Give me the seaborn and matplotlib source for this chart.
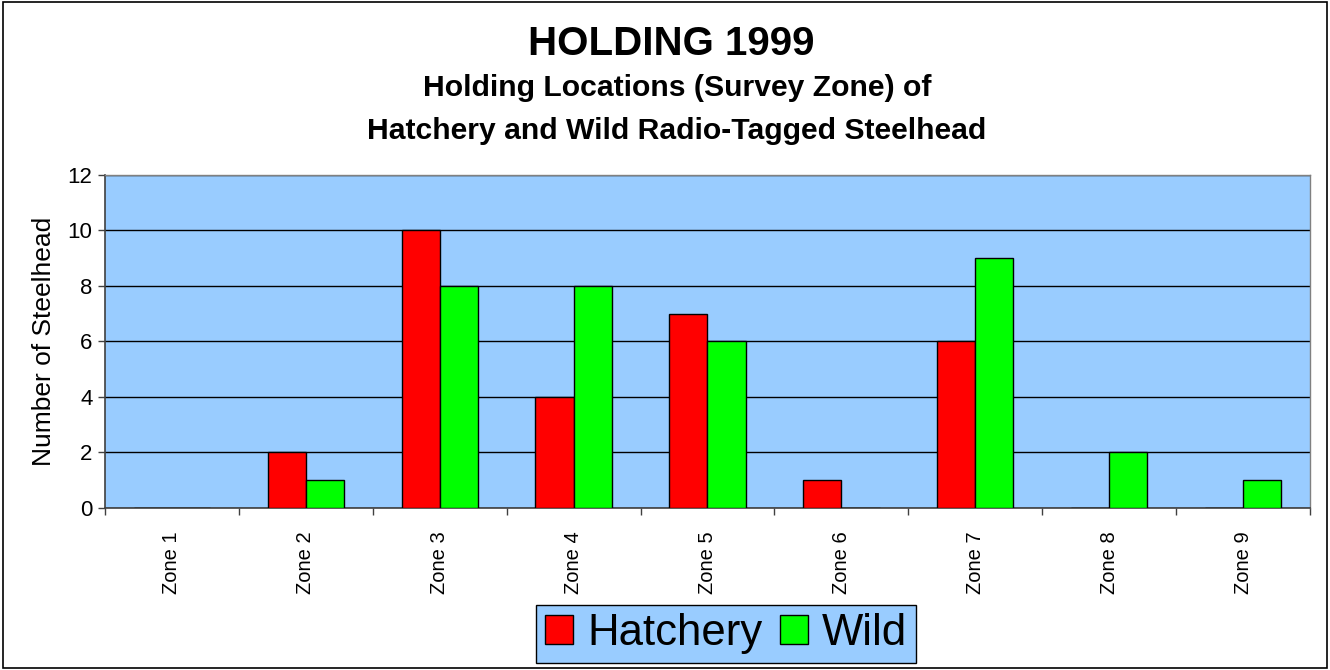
import numpy as np
import pandas as pd
import seaborn as sns
import matplotlib.pyplot as plt
from matplotlib.patches import Rectangle

# Holding survey zones and counts of radio-tagged steelhead
zones = ['Zone 1', 'Zone 2', 'Zone 3', 'Zone 4', 'Zone 5', 'Zone 6', 'Zone 7', 'Zone 8', 'Zone 9']
hatchery = [0, 2, 10, 4, 7, 1, 6, 0, 0]
wild = [0, 1, 8, 8, 6, 0, 9, 2, 1]

df = pd.DataFrame({'zone': zones * 2,
                   'count': hatchery + wild,
                   'origin': ['Hatchery'] * len(zones) + ['Wild'] * len(zones)})

sns.set_theme(style='white')
plt.rcParams['font.family'] = ['Liberation Sans', 'DejaVu Sans']
plt.rcParams['text.color'] = 'black'
plt.rcParams['axes.labelcolor'] = 'black'
plt.rcParams['xtick.color'] = 'black'
plt.rcParams['ytick.color'] = 'black'

fig = plt.figure(figsize=(13.3, 6.7), dpi=100)
ax = fig.add_axes([0.0789, 0.2418, 0.9061, 0.4972])
ax.set_facecolor('#99CCFF')

sns.barplot(data=df, x='zone', y='count', hue='origin', ax=ax,
            palette={'Hatchery': '#FF0000', 'Wild': '#00FF00'},
            width=0.57, edgecolor='black', linewidth=1, saturation=1, zorder=3)

ax.set_xlim(-0.5, len(zones) - 0.5)
ax.set_ylim(0, 12)
ax.set_yticks(np.arange(0, 13, 2))
ax.yaxis.grid(True, color='black', linewidth=1, zorder=1)
ax.set_axisbelow(True)
ax.tick_params(axis='y', labelsize=16, length=5, width=1, color='#404040',
               labelcolor='black', direction='out', left=True, pad=4)

# labels at the centres, tick marks at the category borders
ax.set_xticks(np.arange(len(zones)))
ax.set_xticklabels(zones, rotation=90)
ax.set_xticks(np.arange(-0.5, len(zones), 1), minor=True)
ax.tick_params(axis='x', which='major', length=0, pad=17, labelsize=14.5, labelcolor='black')
ax.tick_params(axis='x', which='minor', length=5, width=1, color='#404040', direction='out', bottom=True)

for side in ['left', 'bottom']:
    ax.spines[side].set_color('#404040')
    ax.spines[side].set_linewidth(1.2)
for side in ['top', 'right']:
    ax.spines[side].set_color('#808080')
    ax.spines[side].set_linewidth(1)

ax.set_xlabel('')
ax.set_ylabel('Number of Steelhead', fontsize=19, labelpad=8, color='black')

leg = ax.legend(loc='center', bbox_to_anchor=(0.546, 0.054), bbox_transform=fig.transFigure,
                ncol=2, fontsize=31.5, frameon=True, fancybox=False,
                handlelength=0.64, handleheight=0.64, handletextpad=0.32,
                columnspacing=0.4, borderpad=0.2, borderaxespad=0)
leg.get_frame().set_facecolor('#99CCFF')
leg.get_frame().set_edgecolor('black')
leg.get_frame().set_linewidth(1)
leg.get_frame().set_alpha(1)
for h in leg.legend_handles:
    h.set_edgecolor('black')
for t in leg.get_texts():
    t.set_color('black')

fig.text(0.505, 0.935, 'HOLDING 1999', ha='center', va='center', fontsize=29, fontweight='bold')
fig.text(0.509, 0.869, 'Holding Locations (Survey Zone) of', ha='center', va='center', fontsize=21.7, fontweight='bold')
fig.text(0.509, 0.804, 'Hatchery and Wild Radio-Tagged Steelhead', ha='center', va='center', fontsize=21.7, fontweight='bold')

fig.patches.append(Rectangle((0.002, 0.003), 0.996, 0.994, transform=fig.transFigure,
                             fill=False, edgecolor='black', linewidth=1.2))

fig.savefig('out.png', dpi=100)
